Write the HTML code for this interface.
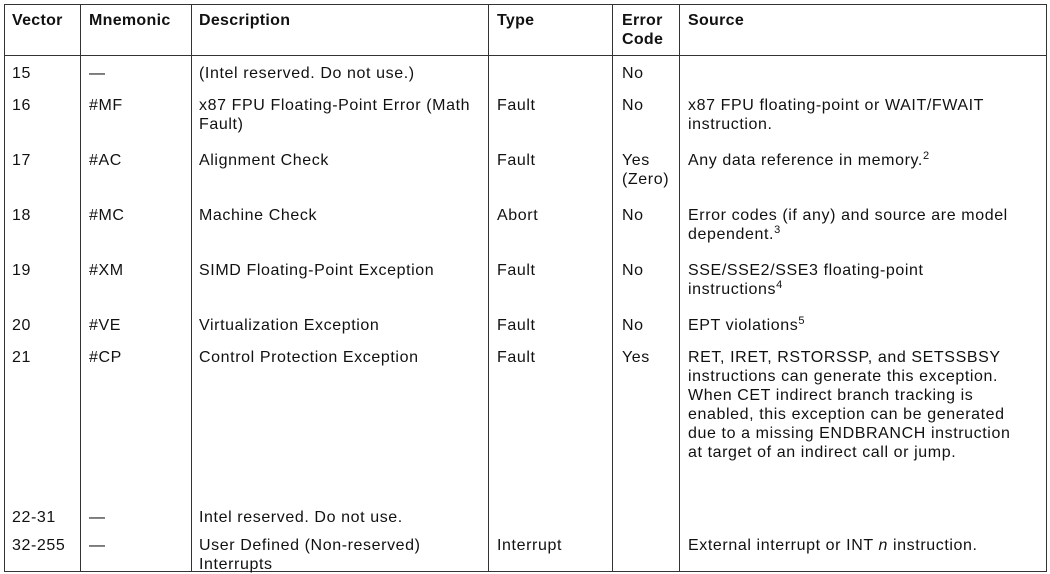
<!DOCTYPE html>
<html><head><meta charset="utf-8"><style>
body{margin:0;background:#fff;width:1050px;height:573px;position:relative;overflow:hidden;font-family:"Liberation Sans",sans-serif;font-size:16px;color:#111;letter-spacing:0.6px}
.l{position:absolute;background:#333}
.t{position:absolute;line-height:19px;white-space:nowrap;top:0}
.b{font-weight:bold;letter-spacing:0.3px}
sup{font-size:11px;line-height:0;vertical-align:6px}
</style></head><body>
<div class="l" style="left:4px;top:4px;width:1043px;height:1px"></div>
<div class="l" style="left:4px;top:55px;width:1043px;height:1px"></div>
<div class="l" style="left:4px;top:571px;width:1043px;height:1px"></div>
<div class="l" style="left:4px;top:4px;width:1px;height:568px"></div>
<div class="l" style="left:80px;top:4px;width:1px;height:568px"></div>
<div class="l" style="left:191px;top:4px;width:1px;height:568px"></div>
<div class="l" style="left:488px;top:4px;width:1px;height:568px"></div>
<div class="l" style="left:612px;top:4px;width:1px;height:568px"></div>
<div class="l" style="left:679px;top:4px;width:1px;height:568px"></div>
<div class="l" style="left:1046px;top:4px;width:1px;height:568px"></div>

<div class="t b" style="left:12px;top:11px">Vector</div>
<div class="t b" style="left:89px;top:11px">Mnemonic</div>
<div class="t b" style="left:199px;top:11px">Description</div>
<div class="t b" style="left:497px;top:11px">Type</div>
<div class="t b" style="left:622px;top:11px">Error<br>Code</div>
<div class="t b" style="left:688px;top:11px">Source</div>

<div class="t" style="left:12px;top:64px">15</div>
<div class="t" style="left:89px;top:64px">—</div>
<div class="t" style="left:199px;top:64px">(Intel reserved. Do not use.)</div>
<div class="t" style="left:622px;top:64px">No</div>

<div class="t" style="left:12px;top:96px">16</div>
<div class="t" style="left:89px;top:96px">#MF</div>
<div class="t" style="left:199px;top:96px">x87 FPU Floating-Point Error (Math<br>Fault)</div>
<div class="t" style="left:497px;top:96px">Fault</div>
<div class="t" style="left:622px;top:96px">No</div>
<div class="t" style="left:688px;top:96px">x87 FPU floating-point or WAIT/FWAIT<br>instruction.</div>

<div class="t" style="left:12px;top:151px">17</div>
<div class="t" style="left:89px;top:151px">#AC</div>
<div class="t" style="left:199px;top:151px">Alignment Check</div>
<div class="t" style="left:497px;top:151px">Fault</div>
<div class="t" style="left:622px;top:151px">Yes<br>(Zero)</div>
<div class="t" style="left:688px;top:151px">Any data reference in memory.<sup>2</sup></div>

<div class="t" style="left:12px;top:206px">18</div>
<div class="t" style="left:89px;top:206px">#MC</div>
<div class="t" style="left:199px;top:206px">Machine Check</div>
<div class="t" style="left:497px;top:206px">Abort</div>
<div class="t" style="left:622px;top:206px">No</div>
<div class="t" style="left:688px;top:206px">Error codes (if any) and source are model<br>dependent.<sup>3</sup></div>

<div class="t" style="left:12px;top:261px">19</div>
<div class="t" style="left:89px;top:261px">#XM</div>
<div class="t" style="left:199px;top:261px">SIMD Floating-Point Exception</div>
<div class="t" style="left:497px;top:261px">Fault</div>
<div class="t" style="left:622px;top:261px">No</div>
<div class="t" style="left:688px;top:261px">SSE/SSE2/SSE3 floating-point<br>instructions<sup>4</sup></div>

<div class="t" style="left:12px;top:316px">20</div>
<div class="t" style="left:89px;top:316px">#VE</div>
<div class="t" style="left:199px;top:316px">Virtualization Exception</div>
<div class="t" style="left:497px;top:316px">Fault</div>
<div class="t" style="left:622px;top:316px">No</div>
<div class="t" style="left:688px;top:316px">EPT violations<sup>5</sup></div>

<div class="t" style="left:12px;top:348px">21</div>
<div class="t" style="left:89px;top:348px">#CP</div>
<div class="t" style="left:199px;top:348px">Control Protection Exception</div>
<div class="t" style="left:497px;top:348px">Fault</div>
<div class="t" style="left:622px;top:348px">Yes</div>
<div class="t" style="left:688px;top:348px">RET, IRET, RSTORSSP, and SETSSBSY<br>instructions can generate this exception.<br>When CET indirect branch tracking is<br>enabled, this exception can be generated<br>due to a missing ENDBRANCH instruction<br>at target of an indirect call or jump.</div>

<div class="t" style="left:12px;top:508px">22-31</div>
<div class="t" style="left:89px;top:508px">—</div>
<div class="t" style="left:199px;top:508px">Intel reserved. Do not use.</div>

<div class="t" style="left:12px;top:536px">32-255</div>
<div class="t" style="left:89px;top:536px">—</div>
<div class="t" style="left:199px;top:536px">User Defined (Non-reserved)<br>Interrupts</div>
<div class="t" style="left:497px;top:536px">Interrupt</div>
<div class="t" style="left:688px;top:536px">External interrupt or INT <i>n</i> instruction.</div>
</body></html>
